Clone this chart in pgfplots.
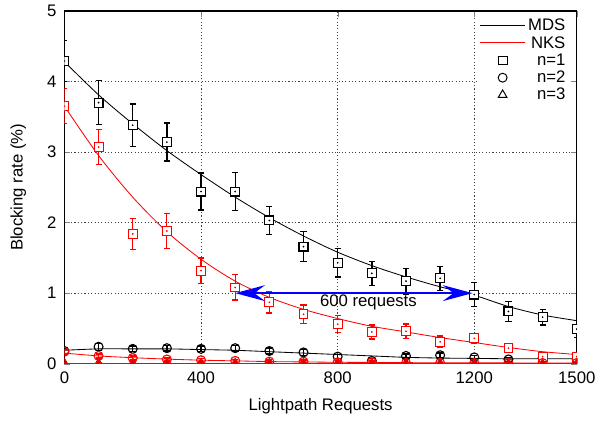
\documentclass[border=0pt]{standalone}
\usepackage{fontspec}
\setmainfont{Liberation Sans}
\usepackage{pgfplots}
\usepackage{pgfplotstable}
\pgfplotsset{compat=1.18}
\usetikzlibrary{arrows.meta}

% measured points: x, rate, half error bar
\pgfplotstableread{
x y e
0 4.29 0.29
100 3.70 0.31
200 3.38 0.30
300 3.14 0.27
400 2.44 0.26
500 2.44 0.27
600 2.03 0.20
700 1.66 0.21
800 1.43 0.20
900 1.28 0.17
1000 1.17 0.18
1100 1.21 0.17
1200 0.98 0.17
1300 0.74 0.14
1400 0.66 0.11
1500 0.49 0.12
}\mdsone
\pgfplotstableread{
x y e
0 3.65 0.25
100 3.07 0.25
200 1.84 0.22
300 1.88 0.25
400 1.32 0.18
500 1.08 0.18
600 0.87 0.15
700 0.70 0.13
800 0.56 0.12
900 0.45 0.10
1000 0.46 0.10
1100 0.31 0.08
1200 0.36 0.07
1300 0.22 0.05
1400 0.10 0.05
1500 0.10 0.05
}\nksone
\pgfplotstableread{
x y e
0 0.18 0.04
100 0.24 0.05
200 0.21 0.04
300 0.22 0.04
400 0.21 0.04
500 0.22 0.04
600 0.18 0.04
700 0.16 0.04
800 0.10 0.03
900 0.04 0.03
1000 0.11 0.03
1100 0.12 0.03
1200 0.09 0.03
1300 0.06 0.03
1400 0.08 0.03
1500 0.06 0.03
}\mdstwo
\pgfplotstableread{
x y e
0 0.17 0.03
100 0.11 0.03
200 0.08 0.03
300 0.06 0.02
400 0.05 0.02
500 0.04 0.02
600 0.03 0.02
700 0.03 0.02
800 0.02 0.02
900 0.02 0.02
1000 0.01 0.01
1100 0.01 0.01
1200 0.01 0.01
1300 0.01 0.01
1400 0.01 0.01
1500 0.01 0.01
}\nkstwo
\pgfplotstableread{
x y e
0 0.0 0.01
100 0.0 0.01
200 0.0 0.01
300 0.0 0.01
400 0.0 0.01
500 0.0 0.01
600 0.0 0.01
700 0.0 0.01
800 0.0 0.01
900 0.0 0.01
1000 0.0 0.01
1100 0.0 0.01
1200 0.0 0.01
1300 0.0 0.01
1400 0.0 0.01
1500 0.0 0.01
}\three

% fitted curves
\pgfplotstableread{
x y
0 4.28
100 3.81
200 3.40
300 3.02
400 2.68
500 2.36
600 2.07
700 1.81
800 1.58
900 1.39
1000 1.23
1100 1.09
1200 0.97
1300 0.81
1400 0.69
1500 0.61
}\mdsonefit
\pgfplotstableread{
x y
0 3.65
100 2.95
200 2.36
300 1.87
400 1.48
500 1.17
600 0.94
700 0.77
800 0.64
900 0.53
1000 0.45
1100 0.37
1200 0.30
1300 0.23
1400 0.17
1500 0.13
}\nksonefit
\pgfplotstableread{
x y
0 0.19
100 0.21
200 0.21
300 0.21
400 0.20
500 0.19
600 0.17
700 0.15
800 0.13
900 0.11
1000 0.09
1100 0.08
1200 0.075
1300 0.07
1400 0.07
1500 0.07
}\mdstwofit
\pgfplotstableread{
x y
0 0.15
100 0.11
200 0.085
300 0.065
400 0.05
500 0.04
600 0.03
700 0.025
800 0.02
900 0.018
1000 0.015
1100 0.013
1200 0.012
1300 0.011
1400 0.01
1500 0.01
}\nkstwofit
\pgfplotstableread{
x y
0 0.005
500 0.005
1000 0.005
1500 0.005
}\threefit

\begin{document}
\begin{tikzpicture}[font=\fontsize{12}{14}\selectfont]
\begin{axis}[
  scale only axis,
  width=12.925cm, height=8.9cm,
  xmin=0, xmax=1500, ymin=0, ymax=5,
  xtick={0,400,800,1200,1500},
  ytick={0,1,2,3,4,5},
  tick align=inside,
  major tick length=0.15cm,
  axis line style={line width=1pt},
  /pgf/number format/assume math mode=true,
  /pgf/number format/set thousands separator={},
  yticklabel style={xshift=-0.08cm},
  xticklabel style={yshift=-0.08cm},
  grid=major,
  grid style={black!75, line width=0.5pt, dash pattern=on 0.8pt off 1.6pt},
  xlabel={Lightpath Requests},
  ylabel={Blocking rate (\%)},
  xlabel style={at={(axis description cs:0.5,-0.121)}, anchor=center},
  ylabel style={at={(axis description cs:-0.09,0.5)}, anchor=center},
  clip marker paths=true,
  legend cell align=right,
  legend style={at={(axis description cs:0.9865,0.989)}, anchor=north east,
    draw=none, fill=white, inner sep=1pt, row sep=-1.5pt,
    nodes={inner sep=2pt}},
  error bars/y dir=both, error bars/y explicit,
  error bars/error mark options={rotate=90, mark size=2.2pt, line width=1pt},
]
\addlegendimage{legend image code/.code={\draw[black, line width=0.6pt] (0,0) -- (1.125cm,0);}}
\addlegendentry{MDS}
\addlegendimage{legend image code/.code={\draw[red, line width=0.6pt] (0,0) -- (1.125cm,0);}}
\addlegendentry{NKS}
\addlegendimage{legend image code/.code={\draw[black, line width=0.7pt, mark=square, mark size=3.2pt] plot coordinates {(0.56cm,0cm)};}}
\addlegendentry{n=1}
\addlegendimage{legend image code/.code={\draw[black, line width=0.7pt, mark=o, mark size=3.2pt] plot coordinates {(0.56cm,0cm)};}}
\addlegendentry{n=2}
\addlegendimage{legend image code/.code={\draw[black, line width=0.7pt, mark=triangle, mark size=3.6pt] plot coordinates {(0.56cm,0cm)};}}
\addlegendentry{n=3}

% MDS, black
\addplot[black, line width=0.6pt, smooth, no marks, forget plot, error bars/y dir=none] table[x=x,y=y] {\mdsonefit};
\addplot[black, line width=0.6pt, smooth, no marks, forget plot, error bars/y dir=none] table[x=x,y=y] {\mdstwofit};
\addplot[black, line width=0.6pt, no marks, forget plot, error bars/y dir=none] table[x=x,y=y] {\threefit};
\addplot[black, only marks, mark=square*, mark size=3.2pt, mark options={fill=white, line width=0.8pt},
  error bars/error bar style={line width=1pt}, forget plot] table[x=x,y=y,y error=e] {\mdsone};
\addplot[black, only marks, mark=o, mark size=3.2pt, mark options={line width=0.8pt},
  error bars/error bar style={line width=1pt}, forget plot] table[x=x,y=y,y error=e] {\mdstwo};
\addplot[black, only marks, mark=triangle, mark size=3.6pt, mark options={line width=0.8pt},
  error bars/error bar style={line width=1pt}, forget plot] table[x=x,y=y,y error=e] {\three};
\addplot[black, only marks, mark=*, mark size=0.4pt, forget plot, error bars/y dir=none] table[x=x,y=y] {\mdsone};

% NKS, red
\addplot[red, line width=0.6pt, smooth, no marks, forget plot, error bars/y dir=none] table[x=x,y=y] {\nksonefit};
\addplot[red, line width=0.6pt, smooth, no marks, forget plot, error bars/y dir=none] table[x=x,y=y] {\nkstwofit};
\addplot[red, line width=0.6pt, no marks, forget plot, error bars/y dir=none] table[x=x,y=y] {\threefit};
\addplot[red, only marks, mark=square*, mark size=3.2pt, mark options={fill=white, line width=0.7pt},
  error bars/error bar style={line width=0.8pt}, forget plot] table[x=x,y=y,y error=e] {\nksone};
\addplot[red, only marks, mark=o, mark size=3.2pt, mark options={line width=0.8pt},
  error bars/error bar style={line width=0.8pt}, forget plot] table[x=x,y=y,y error=e] {\nkstwo};
\addplot[red, only marks, mark=triangle*, mark size=3.6pt, mark options={fill=red!85!black, line width=0.6pt},
  error bars/error bar style={line width=0.8pt}, forget plot] table[x=x,y=y,y error=e] {\three};
\addplot[red, only marks, mark=*, mark size=0.4pt, forget plot, error bars/y dir=none] table[x=x,y=y] {\nksone};

% 600 requests gap
\draw[blue, line width=1.6pt, {Stealth[length=0.75cm, width=0.4cm, inset=0.27cm]}-{Stealth[length=0.75cm, width=0.4cm, inset=0.27cm]}]
  (axis cs:500,1) -- (axis cs:1195,1);
\node at (axis cs:890,0.865) {600 requests};

\coordinate (SW) at (rel axis cs:0,0);
\coordinate (NE) at (rel axis cs:1,1);
\end{axis}
\path ([shift={(-1.625cm,-1.425cm)}]SW) rectangle ([shift={(0.45cm,0.275cm)}]NE);
\end{tikzpicture}
\end{document}
